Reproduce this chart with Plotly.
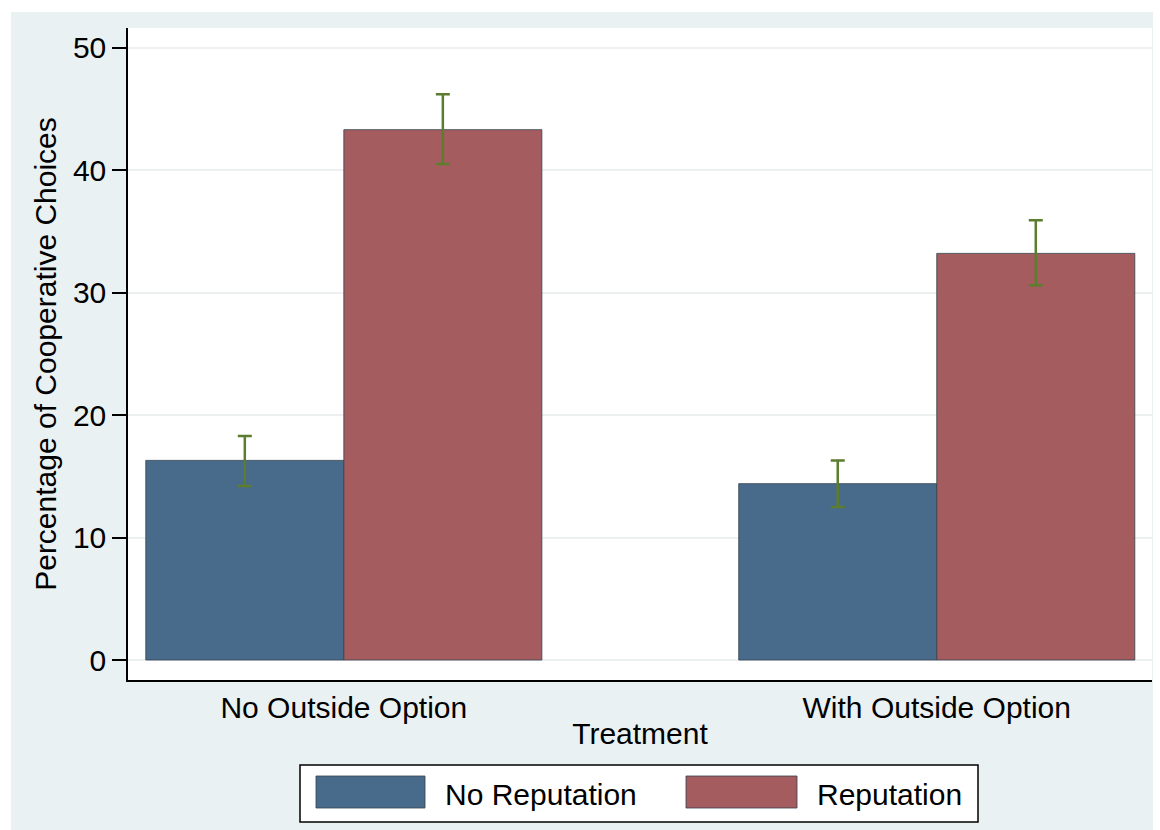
import plotly.graph_objects as go

# Data
treatments = ["No Outside Option", "With Outside Option"]
no_rep = [16.3, 14.4]
no_rep_hi = [18.3, 16.3]
no_rep_lo = [14.2, 12.5]
rep = [43.3, 33.2]
rep_hi = [46.2, 35.9]
rep_lo = [40.5, 30.6]
y_ticks = [0, 10, 20, 30, 40, 50]
series_names = ["No Reputation", "Reputation"]

W, H = 1160, 830
L, R, T, B = 128, 8, 28, 150
PW, PH = W - L - R, H - T - B

BLUE = "#486b8b"
RED = "#a45c5f"
ERR = "#5b7d2d"
FONT = "Liberation Sans, Arial, sans-serif"
FS = 30


def px_x(p):
    return (p - L) / PW


def px_y(p):
    return (H - B - p) / PH


xs = list(range(len(treatments)))

fig = go.Figure()
for vals, hi, lo, color, name in [
    (no_rep, no_rep_hi, no_rep_lo, BLUE, series_names[0]),
    (rep, rep_hi, rep_lo, RED, series_names[1]),
]:
    fig.add_trace(go.Bar(
        x=xs, y=vals, name=name,
        marker=dict(color=color, line=dict(color="#33404d", width=0.8)),
        error_y=dict(
            type="data", symmetric=False,
            array=[h - v for h, v in zip(hi, vals)],
            arrayminus=[v - l for v, l in zip(vals, lo)],
            color=ERR, thickness=2.5, width=7,
        ),
        showlegend=False,
    ))

fig.update_layout(
    width=W, height=H,
    margin=dict(l=L, r=R, t=T, b=B),
    paper_bgcolor="white",
    plot_bgcolor="rgba(0,0,0,0)",
    barmode="group",
    bargap=0.332,
    bargroupgap=0,
    font=dict(family=FONT, color="black"),
    xaxis=dict(
        range=[-0.364, 1.363],
        tickmode="array", tickvals=xs, ticktext=treatments,
        showgrid=False, zeroline=False,
        showline=True, linecolor="black", linewidth=1.5,
        ticks="", tickfont=dict(size=FS),
        ticklabelstandoff=0,
        title=dict(text="Treatment", font=dict(size=FS), standoff=0),
    ),
    yaxis=dict(
        range=[-1.63, 51.6],
        tickmode="array", tickvals=y_ticks,
        showgrid=True, gridcolor="#edf0f0", gridwidth=1.5,
        zeroline=False,
        showline=True, linecolor="black", linewidth=1.5,
        ticks="outside", ticklen=14, tickcolor="black", tickwidth=1.5,
        tickfont=dict(size=FS),
        title=dict(text="Percentage of Cooperative Choices", font=dict(size=FS), standoff=7),
    ),
)

# Outer graph region (light background) and white plot region on top of it
fig.add_shape(type="rect", xref="paper", yref="paper", layer="below",
              x0=px_x(11), x1=px_x(1153), y0=px_y(832), y1=px_y(12),
              fillcolor="#eaf1f3", line=dict(width=0))
fig.add_shape(type="rect", xref="paper", yref="paper", layer="below",
              x0=0, x1=1, y0=0, y1=1,
              fillcolor="white", line=dict(width=0))

# Legend box with wide swatches
fig.add_shape(type="rect", xref="paper", yref="paper",
              x0=px_x(300), x1=px_x(978), y0=px_y(822), y1=px_y(765),
              fillcolor="white", line=dict(color="black", width=1.5))
for (sx0, sx1, tx), color, name in [((316, 425, 443), BLUE, series_names[0]),
                                     ((686, 797, 815), RED, series_names[1])]:
    fig.add_shape(type="rect", xref="paper", yref="paper",
                  x0=px_x(sx0), x1=px_x(sx1), y0=px_y(808), y1=px_y(776),
                  fillcolor=color, line=dict(color="#33404d", width=0.8))
    fig.add_annotation(xref="paper", yref="paper", x=px_x(tx), y=px_y(794),
                       text=name, showarrow=False, xanchor="left", yanchor="middle",
                       font=dict(size=FS, family=FONT, color="black"))

fig.write_html("out.html")
